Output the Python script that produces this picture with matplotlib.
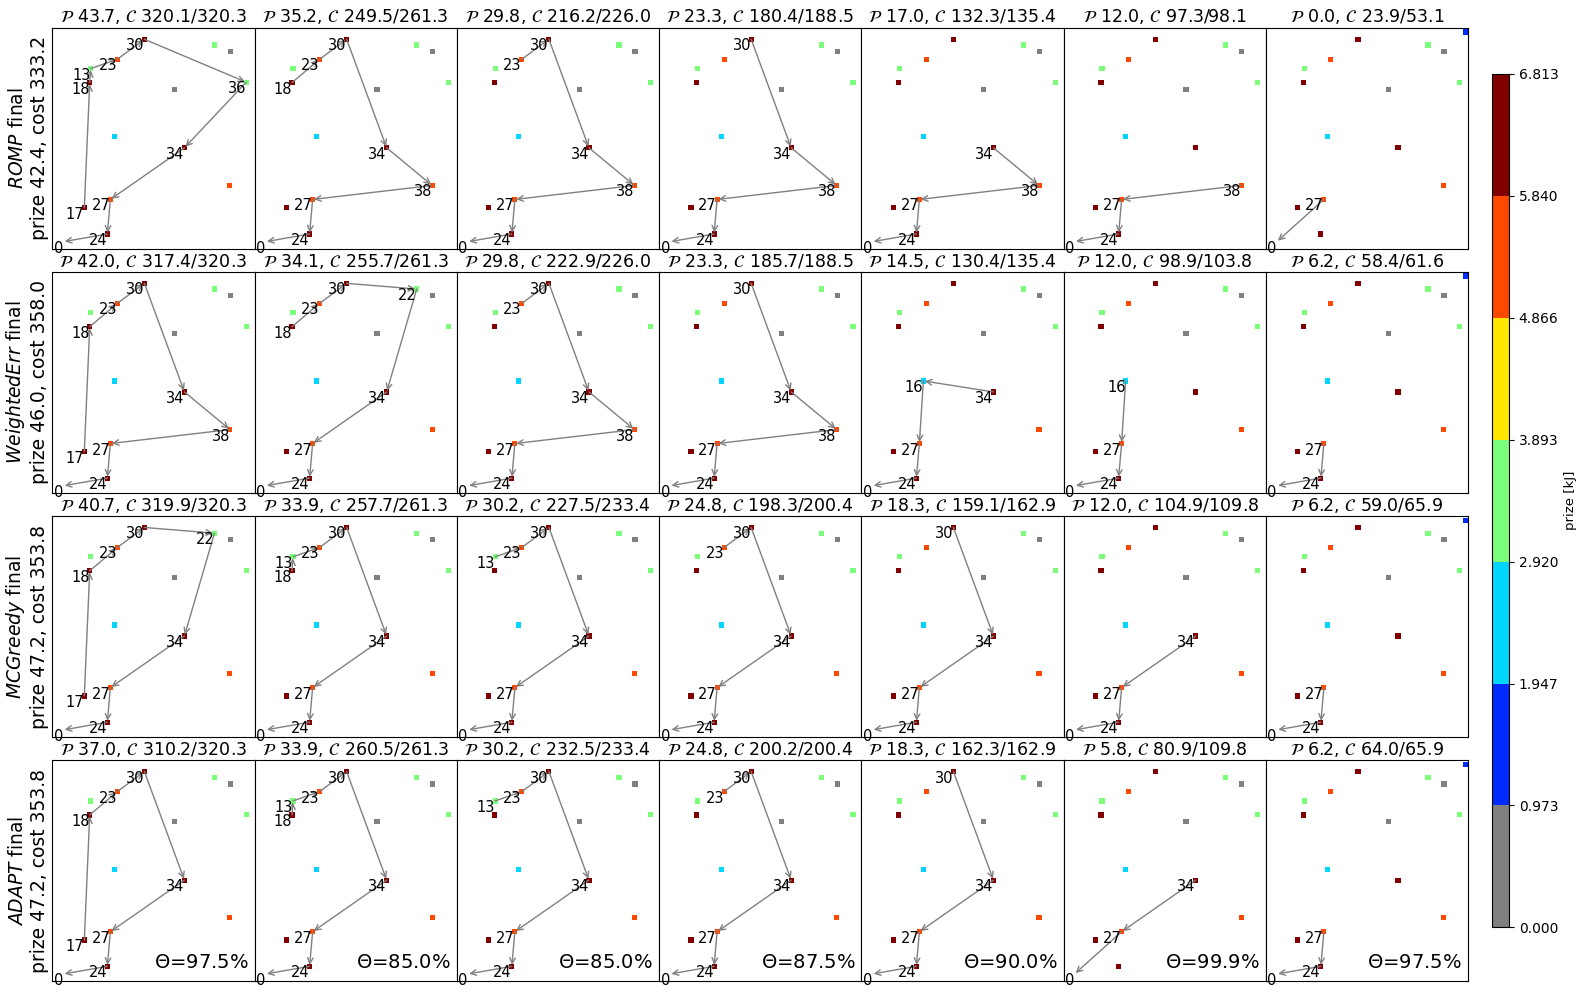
import matplotlib
matplotlib.use("Agg")
import matplotlib.pyplot as plt
import numpy as np
from matplotlib.colors import ListedColormap, BoundaryNorm
from matplotlib.cm import ScalarMappable

# node positions (map units) and prizes [kJ]
node_ids = [0, 5, 9, 13, 16, 17, 18, 22, 23, 24, 27, 30, 34, 36, 38, 41]
node_x = [11.0, 122.4, 178.0, 38.4, 62.0, 32.0, 37.4, 162.0, 65.0, 55.0, 58.0, 92.0, 132.0, 193.7, 177.4, 200.0]
node_y = [7.0, 159.7, 197.3, 180.3, 112.0, 41.0, 166.3, 204.0, 189.7, 14.7, 49.3, 209.7, 101.0, 166.7, 63.3, 217.0]
node_prize = [0.0, 0.4, 0.5, 3.7, 2.5, 6.1, 6.81, 3.8, 5.4, 6.2, 5.8, 6.5, 6.3, 3.0, 5.0, 1.5]
node_first_col = [0, 0, 0, 0, 0, 0, 0, 0, 0, 0, 0, 0, 0, 0, 0, 6]

methods = ["ROMP", "WeightedErr", "MCGreedy", "ADAPT"]
final_prize = [42.4, 46.0, 47.2, 47.2]
final_cost = [333.2, 358.0, 353.8, 353.8]

routes = [
    [[17, 18, 13, 23, 30, 36, 34, 27, 24, 0], [18, 23, 30, 34, 38, 27, 24, 0],
     [23, 30, 34, 38, 27, 24, 0], [30, 34, 38, 27, 24, 0], [34, 38, 27, 24, 0],
     [38, 27, 24, 0], [27, 0]],
    [[17, 18, 23, 30, 34, 38, 27, 24, 0], [18, 23, 30, 22, 34, 27, 24, 0],
     [23, 30, 34, 38, 27, 24, 0], [30, 34, 38, 27, 24, 0], [34, 16, 27, 24, 0],
     [16, 27, 24, 0], [27, 24, 0]],
    [[17, 18, 23, 30, 22, 34, 27, 24, 0], [18, 13, 23, 30, 34, 27, 24, 0],
     [13, 23, 30, 34, 27, 24, 0], [23, 30, 34, 27, 24, 0], [30, 34, 27, 24, 0],
     [34, 27, 24, 0], [27, 24, 0]],
    [[17, 18, 23, 30, 34, 27, 24, 0], [18, 13, 23, 30, 34, 27, 24, 0],
     [13, 23, 30, 34, 27, 24, 0], [23, 30, 34, 27, 24, 0], [30, 34, 27, 24, 0],
     [34, 27, 0], [27, 24, 0]],
]

step_prize = [
    [43.7, 35.2, 29.8, 23.3, 17.0, 12.0, 0.0],
    [42.0, 34.1, 29.8, 23.3, 14.5, 12.0, 6.2],
    [40.7, 33.9, 30.2, 24.8, 18.3, 12.0, 6.2],
    [37.0, 33.9, 30.2, 24.8, 18.3, 5.8, 6.2],
]
step_cost = [
    [320.1, 249.5, 216.2, 180.4, 132.3, 97.3, 23.9],
    [317.4, 255.7, 222.9, 185.7, 130.4, 98.9, 58.4],
    [319.9, 257.7, 227.5, 198.3, 159.1, 104.9, 59.0],
    [310.2, 260.5, 232.5, 200.2, 162.3, 80.9, 64.0],
]
step_budget = [
    [320.3, 261.3, 226.0, 188.5, 135.4, 98.1, 53.1],
    [320.3, 261.3, 226.0, 188.5, 135.4, 103.8, 61.6],
    [320.3, 261.3, 233.4, 200.4, 162.9, 109.8, 65.9],
    [320.3, 261.3, 233.4, 200.4, 162.9, 109.8, 65.9],
]
theta = [97.5, 85.0, 85.0, 87.5, 90.0, 99.9, 97.5]

pmax = 6.813
bounds = np.linspace(0, pmax, 8)
colors = plt.get_cmap("jet", 7)(np.arange(7))
colors[0] = (0.5, 0.5, 0.5, 1.0)
cmap = ListedColormap(colors)
norm = BoundaryNorm(bounds, cmap.N)

pos = {n: (x, y) for n, x, y in zip(node_ids, node_x, node_y)}
xs = np.array(node_x)
ys = np.array(node_y)
pr = np.array(node_prize)
first = np.array(node_first_col)
ids = np.array(node_ids)

fig, axes = plt.subplots(4, 7, figsize=(15.84, 9.92), dpi=100)
plt.subplots_adjust(left=0.033, right=0.9268, top=0.9718, bottom=0.0111,
                    wspace=0, hspace=0.106)

for r in range(4):
    for c in range(7):
        ax = axes[r, c]
        show = (first <= c) & (ids != 0)
        ax.scatter(xs[show], ys[show], c=pr[show], cmap=cmap, norm=norm,
                   marker="s", s=14, linewidths=0, zorder=2)
        route = routes[r][c]
        for a, b in zip(route[:-1], route[1:]):
            ax.annotate("", xy=pos[b], xytext=pos[a],
                        arrowprops=dict(arrowstyle="->", color="gray", lw=1,
                                        shrinkA=0, shrinkB=1), zorder=3)
        for n in route:
            ax.text(pos[n][0], pos[n][1] + 1, str(n), ha="right", va="top",
                    fontsize=10.5, zorder=4)
        ax.set_xlim(0, 202)
        ax.set_ylim(0, 221)
        ax.set_xticks([])
        ax.set_yticks([])
        ax.set_title(r"$\mathcal{P}$ %.1f, $\mathcal{C}$ %.1f/%.1f"
                     % (step_prize[r][c], step_cost[r][c], step_budget[r][c]),
                     fontsize=12.5, pad=4)
        if r == 3:
            ax.text(0.97, 0.04, r"$\Theta$=%.1f%%" % theta[c], transform=ax.transAxes,
                    ha="right", va="bottom", fontsize=14)
    axes[r, 0].set_ylabel(r"$\it{%s}$ final" % methods[r] + "\n"
                          + "prize %.1f, cost %.1f" % (final_prize[r], final_cost[r]),
                          fontsize=13.5, labelpad=2)

cax = fig.add_axes([0.942, 0.0651, 0.0107, 0.8606])
cb = fig.colorbar(ScalarMappable(norm=norm, cmap=cmap), cax=cax, ticks=bounds)
cb.ax.set_yticklabels(["%.3f" % b for b in bounds])
cb.ax.tick_params(labelsize=10)
cb.set_label("prize [kJ]", fontsize=9.5)

plt.savefig("out.png", dpi=100)
